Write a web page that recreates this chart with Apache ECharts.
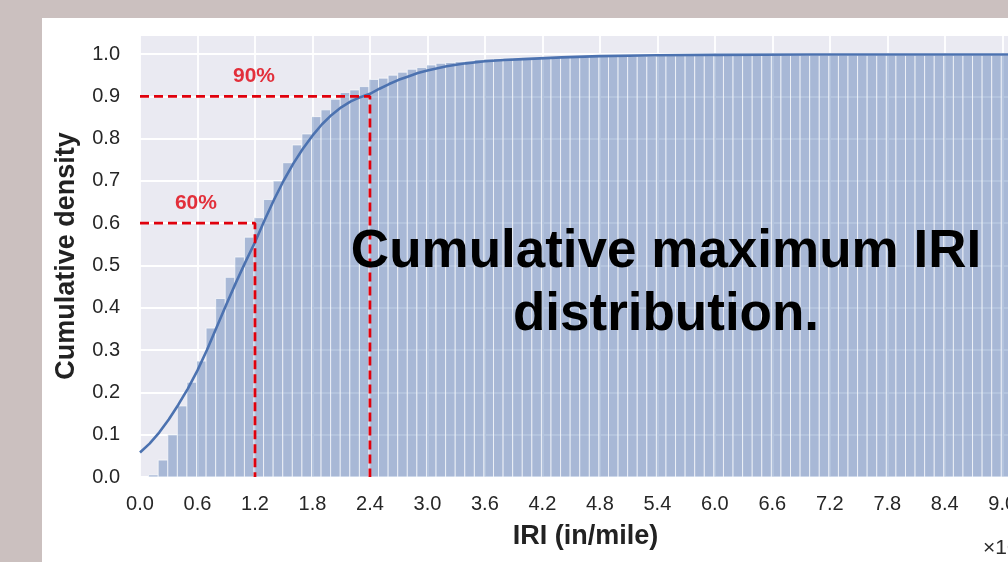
<!DOCTYPE html>
<html>
<head>
<meta charset="utf-8">
<script src="https://cdn.jsdelivr.net/npm/echarts@6/dist/echarts.min.js"></script>
<style>
  html, body { margin: 0; padding: 0; background: #cbc0bf; }
  #chart { width: 1008px; height: 562px; }
</style>
</head>
<body>
<div id="chart"></div>
<script>
// ---- data ----
const binStart = 0.09;
const binWidth = 0.1;
const cumHeights = [
  0.005, 0.04, 0.10, 0.168, 0.224, 0.274, 0.352, 0.422, 0.472, 0.52,
  0.567, 0.613, 0.656, 0.70, 0.743, 0.785, 0.811, 0.852, 0.868, 0.893,
  0.909, 0.915, 0.923, 0.94, 0.943, 0.95, 0.957, 0.964, 0.968, 0.974,
  0.978, 0.98, 0.982, 0.983, 0.987, 0.988, 0.989, 0.99, 0.99, 0.991,
  0.991, 0.992, 0.992, 0.993, 0.993, 0.993, 0.994, 0.994, 0.994, 0.995,
  0.995, 0.995, 0.995, 0.996, 0.996, 0.996, 0.996, 0.996, 0.996, 0.997,
  0.997, 0.997, 0.997, 0.997, 0.997, 0.997, 0.997, 0.997, 0.997, 0.997,
  0.997, 0.997, 0.997, 0.997, 0.997, 0.997, 0.997, 0.997, 0.997, 0.997,
  0.997, 0.997, 0.997, 0.997, 0.997, 0.997, 0.997, 0.997, 0.997, 0.997,
  0.997, 0.997, 0.997
];
const curveX = [0, 0.1, 0.2, 0.3, 0.4, 0.5, 0.6, 0.7, 0.8, 0.9, 1.0, 1.1, 1.2, 1.3, 1.4, 1.5, 1.6, 1.7, 1.8, 1.9, 2.0, 2.1, 2.2, 2.3, 2.4, 2.5, 2.6, 2.7, 2.8, 2.9, 3.0, 3.2, 3.4, 3.6, 3.8, 4.0, 4.4, 4.8, 5.4, 6.0, 7.0, 8.0, 9.0, 9.3];
const curveY = [0.058, 0.079, 0.105, 0.136, 0.171, 0.209, 0.252, 0.301, 0.354, 0.407, 0.459, 0.508, 0.555, 0.607, 0.656, 0.701, 0.741, 0.776, 0.807, 0.834, 0.856, 0.874, 0.888, 0.898, 0.906, 0.918, 0.929, 0.939, 0.947, 0.955, 0.961, 0.971, 0.978, 0.983, 0.986, 0.988, 0.992, 0.995, 0.997, 0.998, 0.999, 0.999, 0.999, 0.999];
const ref90 = [[0, 0.9], [2.4, 0.9], [2.4, 0]];
const ref60 = [[0, 0.6], [1.2, 0.6], [1.2, 0]];
const refLabels = [[1.19, 0.948, '90%'], [0.584, 0.647, '60%']];
const xTickStep = 0.6;
const yTickStep = 0.1;
const xName = 'IRI (in/mile)';
const yName = 'Cumulative density';
const overlayText = 'Cumulative maximum IRI\ndistribution.';
const offsetText = '×10²';

// ---- build ----
const barData = cumHeights.map((h, i) => [binStart + i * binWidth, binStart + (i + 1) * binWidth, h]);
const curveData = curveX.map((x, i) => [x, curveY[i]]);

const chart = echarts.init(document.getElementById('chart'), null, { renderer: 'canvas' });
const FONT = '"Liberation Sans", Arial, sans-serif';
const RED = '#e0000c';

function isMultiple(v, step) {
  const r = Math.abs(v / step - Math.round(v / step));
  return r < 1e-6;
}

chart.setOption({
  backgroundColor: '#cbc0bf',
  animation: false,
  graphic: [
    { type: 'rect', z: -10, silent: true, shape: { x: 42, y: 18, width: 1000, height: 600 }, style: { fill: '#ffffff' } },
    { type: 'text', z: 100, left: 983, top: 538, style: { text: offsetText, fill: '#2b2b2b', font: '21px ' + FONT } },
    { type: 'text', z: 100, x: 666, y: 284, style: { text: overlayText, fill: '#000', font: 'bold 53px ' + FONT, align: 'center', verticalAlign: 'middle', lineHeight: 63 } }
  ],
  grid: {
    left: 140, top: 35, width: 891, height: 442,
    outerBoundsMode: 'none', containLabel: false,
    show: true, backgroundColor: '#eaeaf2', borderWidth: 0
  },
  xAxis: {
    type: 'value', min: 0, max: 9.3, interval: xTickStep,
    name: xName, nameLocation: 'middle', nameGap: 46,
    nameTextStyle: { fontFamily: FONT, fontWeight: 'bold', fontSize: 27, color: '#222' },
    axisLine: { show: false }, axisTick: { show: false },
    axisLabel: {
      fontFamily: FONT, fontSize: 20, color: '#262626', margin: 17,
      showMaxLabel: false,
      formatter: v => isMultiple(v, xTickStep) ? v.toFixed(1) : ''
    },
    splitLine: { show: true, lineStyle: { color: '#ffffff', width: 1.8 } }
  },
  yAxis: {
    type: 'value', min: 0, max: 1.045, interval: yTickStep,
    name: yName, nameLocation: 'middle', nameGap: 60, nameRotate: 90,
    nameTextStyle: { fontFamily: FONT, fontWeight: 'bold', fontSize: 27, color: '#222' },
    axisLine: { show: false }, axisTick: { show: false },
    axisLabel: {
      fontFamily: FONT, fontSize: 20, color: '#262626', margin: 20,
      formatter: v => isMultiple(v, yTickStep) ? v.toFixed(1) : ''
    },
    splitLine: { show: true, lineStyle: { color: '#ffffff', width: 1.8 } }
  },
  series: [
    {
      type: 'custom', z: 2, clip: true,
      data: barData,
      encode: { x: [0, 1], y: 2 },
      renderItem: function (params, api) {
        const p0 = api.coord([api.value(0), api.value(2)]);
        const p1 = api.coord([api.value(1), 0]);
        return {
          type: 'rect',
          shape: { x: p0[0], y: p0[1], width: p1[0] - p0[0], height: p1[1] - p0[1] },
          style: { fill: 'rgba(76,114,176,0.42)', stroke: 'rgba(255,255,255,0.65)', lineWidth: 1 }
        };
      }
    },
    {
      type: 'line', z: 3, data: curveData, smooth: false, showSymbol: false, clip: true,
      lineStyle: { color: '#4c72b0', width: 2.6, join: 'round' }
    },
    {
      type: 'line', z: 4, data: ref90, showSymbol: false,
      lineStyle: { color: RED, width: 2.8, type: [9, 5] }
    },
    {
      type: 'line', z: 4, data: ref60, showSymbol: false,
      lineStyle: { color: RED, width: 2.8, type: [9, 5] }
    },
    {
      type: 'scatter', z: 5, symbolSize: 0,
      data: refLabels,
      label: {
        show: true, position: 'inside',
        formatter: p => p.data[2],
        fontFamily: FONT, fontWeight: 'bold', fontSize: 21, color: RED
      }
    }
  ]
});
</script>
</body>
</html>
